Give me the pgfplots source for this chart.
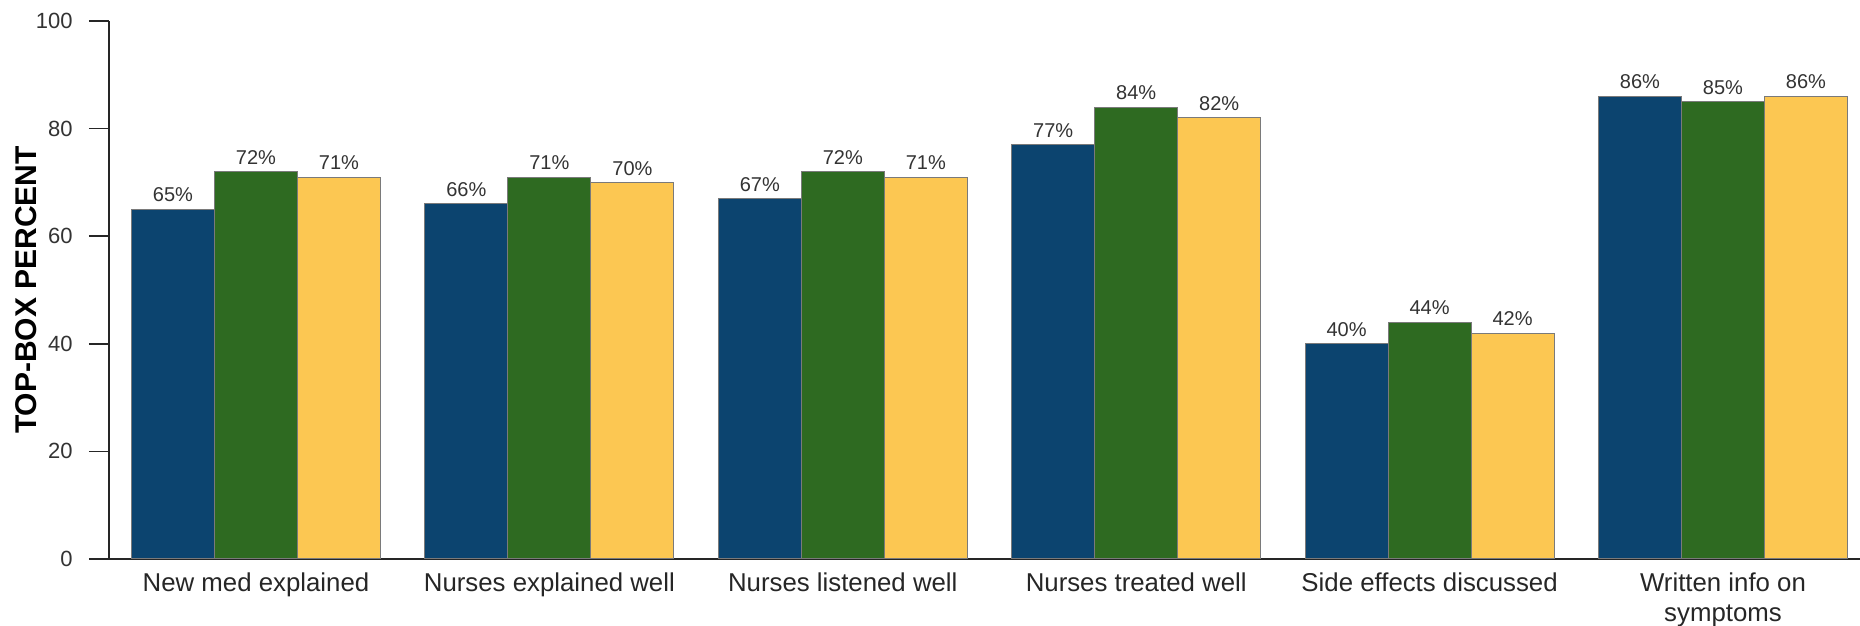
\documentclass[border=0pt]{standalone}
\usepackage{pgfplots}
\pgfplotsset{compat=1.18}
\usepackage{fontspec}
\setmainfont{Liberation Sans}
\definecolor{cblue}{HTML}{0C446F}
\definecolor{cgreen}{HTML}{2E6A21}
\definecolor{cyellow}{HTML}{FCC752}
\definecolor{edge}{HTML}{7A7A7A}
\begin{document}
\begin{tikzpicture}
\begin{axis}[
  at={(0,0)}, anchor=south west,
  scale only axis, width=875.5pt, height=269pt,
  ybar=0pt, bar width=41.5pt,
  xmin=-0.501, xmax=5.467, ymin=0, ymax=100,
  axis x line=bottom, axis y line=left,
  axis line style={-, black!85, line width=0.8pt},
  xtick={0,1,2,3,4,5},
  xticklabels={New med explained, Nurses explained well, Nurses listened well, Nurses treated well, Side effects discussed, {Written info on\\symptoms}},
  x tick style={draw=none},
  xticklabel style={font=\fontsize{12.9}{14.8}\selectfont, text=black!85, align=center, yshift=6.5pt},
  ytick={0,20,40,60,80,100},
  tick align=outside, major tick length=10pt,
  y tick style={black!85, line width=0.8pt},
  yticklabel style={font=\fontsize{11}{13}\selectfont, text=black!80, xshift=-4.7pt},
  /pgf/number format/assume math mode=true,
  ylabel={TOP-BOX PERCENT},
  every axis y label/.style={at={(axis description cs:0,0.5)}, xshift=-41.5pt, rotate=90, anchor=center, font=\bfseries\fontsize{15}{17}\selectfont},
  nodes near coords={\pgfmathprintnumber{\pgfplotspointmeta}\%},
  every node near coord/.append style={font=\fontsize{10}{12}\selectfont, text=black!80},
  clip=false,
]
\addplot[fill=cblue, draw=edge, line width=0.5pt] coordinates {(0,65) (1,66) (2,67) (3,77) (4,40) (5,86)};
\addplot[fill=cgreen, draw=edge, line width=0.5pt] coordinates {(0,72) (1,71) (2,72) (3,84) (4,44) (5,85)};
\addplot[fill=cyellow, draw=edge, line width=0.5pt] coordinates {(0,71) (1,70) (2,71) (3,82) (4,42) (5,86)};
\end{axis}
\pgfresetboundingbox
\path[use as bounding box] (-54.5pt,-33.5pt) rectangle (875.5pt,279.5pt);
\end{tikzpicture}
\end{document}
